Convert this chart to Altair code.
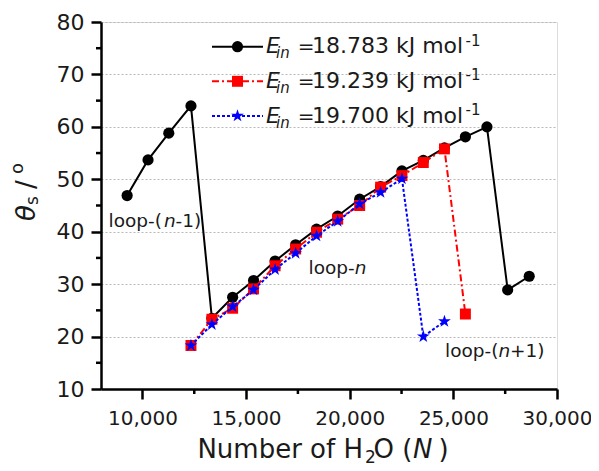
import altair as alt
import pandas as pd

# ---- data ----
x_n = [9260, 10270, 11270, 12340, 13350, 14350, 15360, 16400, 17390, 18400,
       19420, 20480, 21490, 22520, 23550, 24570, 25580, 26620, 27620, 28660]
black_y = [46.9, 53.7, 58.8, 64.0, 23.5, 27.5, 30.7, 34.4, 37.5, 40.5,
           43.0, 46.2, 48.6, 51.6, 53.6, 56.0, 58.1, 60.0, 28.9, 31.5]
red_x = x_n[3:17]
red_y = [18.3, 23.3, 25.4, 29.1, 33.5, 36.7, 39.9, 42.4, 45.0, 48.5,
         50.7, 53.2, 55.8, 24.3]
blue_x = x_n[3:16]
blue_y = [18.3, 22.3, 25.7, 28.9, 32.8, 35.9, 39.2, 42.0, 45.3, 47.5,
          50.1, 20.0, 22.9]
legend_values = ["18.783", "19.239", "19.700"]
x_ticks = [10000, 15000, 20000, 25000, 30000]
x_minor = [12500, 17500, 22500, 27500]
y_ticks = [10, 20, 30, 40, 50, 60, 70, 80]
y_minor = [15, 25, 35, 45, 55, 65, 75]

FONT = "DejaVu Sans"
TXT = "#1a1a1a"
W, H = 456, 367
STAR = ("M0,-1L0.2245,-0.309L0.9511,-0.309L0.3633,0.118L0.5878,0.809L0,0.382"
        "L-0.5878,0.809L-0.3633,0.118L-0.9511,-0.309L-0.2245,-0.309Z")

xs = alt.Scale(domain=[8000, 30000], nice=False, zero=False)
ys = alt.Scale(domain=[10, 80], nice=False, zero=False)

xax = alt.Axis(values=x_ticks, format=",d", labelFont=FONT, labelFontSize=20,
               labelColor=TXT, tickSize=10, tickWidth=2.5, tickColor="black",
               domainWidth=2.5, domainColor="black", grid=False, labelPadding=9,
               labelFlush=False, labelOverlap=False, title="", orient="bottom")
yax = alt.Axis(values=y_ticks, labelFont=FONT, labelFontSize=22, labelColor=TXT,
               tickSize=10, tickWidth=2.5, tickColor="black", domainWidth=2.5,
               domainColor="black", grid=True, gridDash=[2, 2], gridColor="#b8b8b8",
               gridWidth=1, labelPadding=7, labelFlush=False, labelOverlap=False,
               title="", orient="left")


def X(f="x:Q"):
    return alt.X(f, scale=xs, axis=xax)


def Y(f="y:Q"):
    return alt.Y(f, scale=ys, axis=yax)


one = pd.DataFrame({"a": [0]})


def series(xv, yv, color, dash, shape, size):
    df = pd.DataFrame({"x": xv, "y": yv, "i": list(range(len(xv)))})
    lk = dict(color=color, strokeWidth=2)
    if dash:
        lk["strokeDash"] = dash
    line = alt.Chart(df).mark_line(**lk).encode(x=X(), y=Y(), order="i:Q")
    pts = alt.Chart(df).mark_point(shape=shape, filled=True, size=size, color=color,
                                   opacity=1).encode(x=X(), y=Y())
    return [line, pts]


layers = []
layers += series(x_n, black_y, "black", None, "circle", 125)
layers += series(red_x, red_y, "#ff0000", [7, 3, 2, 3], "square", 120)
layers += series(blue_x, blue_y, "#0000ff", [3, 2], STAR, 180)

# minor ticks
layers.append(alt.Chart(pd.DataFrame({"x": x_minor})).mark_rule(color="black", strokeWidth=2.5)
              .encode(x=X(), y=alt.value(H), y2=alt.value(H + 5)))
layers.append(alt.Chart(pd.DataFrame({"y": y_minor})).mark_rule(color="black", strokeWidth=2.5)
              .encode(y=Y(), x=alt.value(-5), x2=alt.value(0)))


def txt(s, x, y, size, italic=False, angle=0, align="left", baseline="alphabetic"):
    kw = dict(text=s, font=FONT, fontSize=size, color=TXT, align=align, baseline=baseline)
    if italic:
        kw["fontStyle"] = "italic"
    if angle:
        kw["angle"] = angle
    return alt.Chart(one).mark_text(**kw).encode(x=alt.value(x), y=alt.value(y))


dy = 1.0   # plot top sits at page y=22
dx = 1.0   # plot left sits at page x=101

# legend
styles = [("black", None, "circle", 125), ("#ff0000", [7, 3, 2, 3], "square", 120),
          ("#0000ff", [3, 2], STAR, 180)]
for k, (col, dash, shape, size) in enumerate(styles):
    yc = 23.7 + dy + k * 34.6
    rk = dict(color=col, strokeWidth=2)
    if dash:
        rk["strokeDash"] = dash
    layers.append(alt.Chart(one).mark_rule(**rk).encode(
        x=alt.value(110 + dx), x2=alt.value(161 + dx), y=alt.value(yc)))
    layers.append(alt.Chart(one).mark_point(shape=shape, filled=True, size=size, color=col,
                                            opacity=1).encode(x=alt.value(135.5 + dx), y=alt.value(yc)))
    yb = yc + 6.6
    layers.append(txt("E", 164 + dx, yb, 22, italic=True))
    layers.append(txt("in", 174 + dx, yb + 5, 15, italic=True))
    layers.append(txt("=", 204 + dx, yb, 20, align="center"))
    layers.append(txt(legend_values[k] + " kJ mol", 210 + dx, yb, 22))
    layers.append(txt("-1", 363.5 + dx, yb - 7.6, 15))

# loop annotations
layers.append(txt("loop-(", 6.5 + dx, 203.7 + dy, 18.5))
layers.append(txt("n", 61.9 + dx, 203.7 + dy, 18.5, italic=True))
layers.append(txt("-1)", 73.6 + dx, 203.7 + dy, 18.5))
layers.append(txt("loop-", 206.5 + dx, 251.3 + dy, 18.5))
layers.append(txt("n", 252.7 + dx, 251.3 + dy, 18.5, italic=True))
layers.append(txt("loop-(", 343 + dx, 333.7 + dy, 18.5))
layers.append(txt("n", 396.4 + dx, 333.7 + dy, 18.5, italic=True))
layers.append(txt("+1)", 408.1 + dx, 333.7 + dy, 18.5))

# x axis title
tb = 436.3
layers.append(txt("Number of H", 95.4 + dx, tb, 26))
layers.append(txt("2", 263 + dx, tb + 4.5, 17))
layers.append(txt("O (", 271.5 + dx, tb, 26))
layers.append(txt("N", 311 + dx, tb, 26, italic=True))
layers.append(txt(")", 336.5 + dx, tb, 26))

# y axis title (rotated)
layers.append(txt("\u03b8", -67 + dx, 198 + dy, 26, italic=True, angle=270))
layers.append(txt("s", -64 + dx, 182 + dy, 17, angle=270))
layers.append(txt("/", -67 + dx, 166 + dy, 26, angle=270))
layers.append(txt("o", -79 + dx, 151 + dy, 18, angle=270))

chart = alt.layer(*layers).properties(
    width=W, height=H,
    autosize=alt.AutoSizeParams(type="none"),
    padding={"left": 93, "top": 14, "right": 34, "bottom": 74},
).configure_view(stroke="black", strokeWidth=2.5).configure(background="white")

chart.save("out.html", embed_options={"renderer": "svg", "actions": False})
